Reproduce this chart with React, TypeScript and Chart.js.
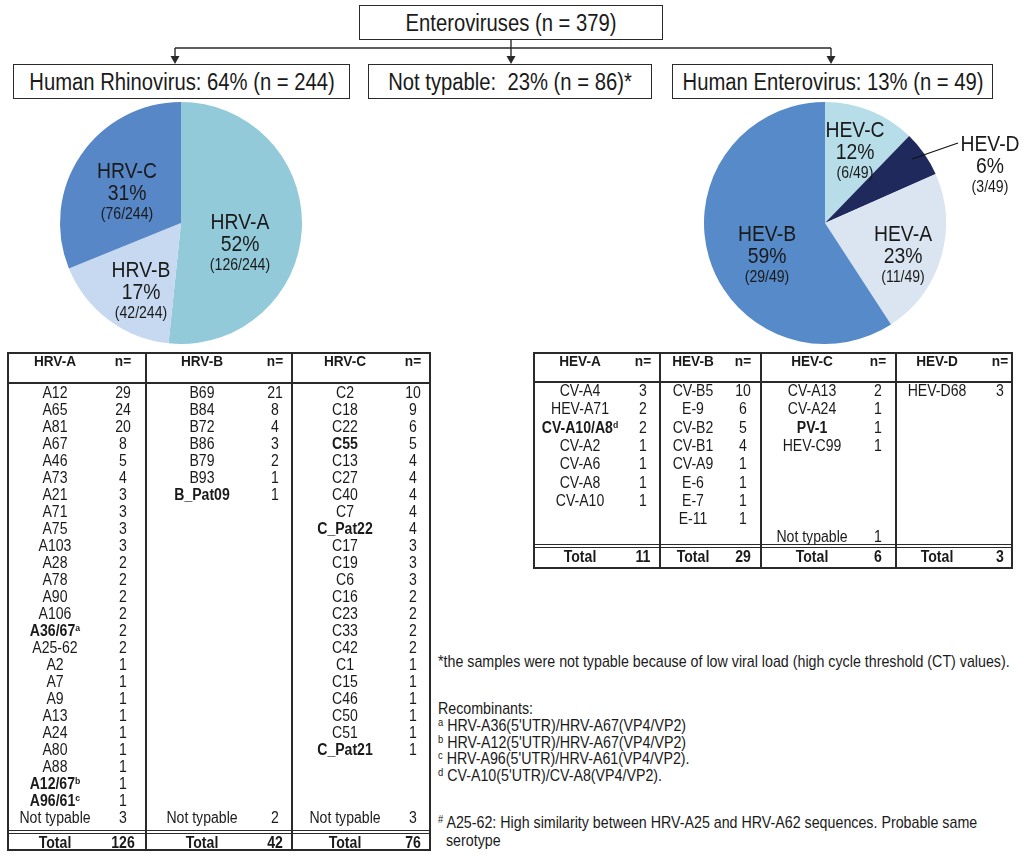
import React, { useEffect, useRef } from "react";
import { Chart, registerables } from "chart.js";

Chart.register(...registerables);

// ---------- Data ----------
const hrvLabels = ["HRV-A", "HRV-B", "HRV-C"];
const hrvCounts = [126, 42, 76];
const hrvPercents = ["52%", "17%", "31%"];
const hrvColors = ["#93CADA", "#C6D9F0", "#5787C7"];

const hevLabels = ["HEV-C", "HEV-D", "HEV-A", "HEV-B"];
const hevCounts = [6, 3, 11, 29];
const hevPercents = ["12%", "6%", "23%", "59%"];
const hevColors = ["#B7DDE8", "#1F295C", "#DBE5F1", "#568AC8"];

const hrvANames = ["A12", "A65", "A81", "A67", "A46", "A73", "A21", "A71", "A75", "A103", "A28", "A78", "A90", "A106", "A36/67", "A25-62", "A2", "A7", "A9", "A13", "A24", "A80", "A88", "A12/67", "A96/61"];
const hrvACounts = [29, 24, 20, 8, 5, 4, 3, 3, 3, 3, 2, 2, 2, 2, 2, 2, 1, 1, 1, 1, 1, 1, 1, 1, 1];
const hrvANotTypable = 3;

const hrvBNames = ["B69", "B84", "B72", "B86", "B79", "B93", "B_Pat09"];
const hrvBCounts = [21, 8, 4, 3, 2, 1, 1];
const hrvBNotTypable = 2;

const hrvCNames = ["C2", "C18", "C22", "C55", "C13", "C27", "C40", "C7", "C_Pat22", "C17", "C19", "C6", "C16", "C23", "C33", "C42", "C1", "C15", "C46", "C50", "C51", "C_Pat21"];
const hrvCCounts = [10, 9, 6, 5, 4, 4, 4, 4, 4, 3, 3, 3, 2, 2, 2, 2, 1, 1, 1, 1, 1, 1];
const hrvCNotTypable = 3;

const hevANames = ["CV-A4", "HEV-A71", "CV-A10/A8", "CV-A2", "CV-A6", "CV-A8", "CV-A10"];
const hevACounts = [3, 2, 2, 1, 1, 1, 1];
const hevBNames = ["CV-B5", "E-9", "CV-B2", "CV-B1", "CV-A9", "E-6", "E-7", "E-11"];
const hevBCounts = [10, 6, 5, 4, 1, 1, 1, 1];
const hevCNames = ["CV-A13", "CV-A24", "PV-1", "HEV-C99"];
const hevCCounts = [2, 1, 1, 1];
const hevCNotTypable = 1;
const hevDNames = ["HEV-D68"];
const hevDCounts = [3];

const boldNames = ["A36/67", "A12/67", "A96/61", "B_Pat09", "C55", "C_Pat22", "C_Pat21", "CV-A10/A8", "PV-1"];
const superscripts: Record<string, string> = { "A36/67": "a", "A12/67": "b", "A96/61": "c", "CV-A10/A8": "d" };

const topBoxText = "Enteroviruses (n = 379)";
const branchTexts = ["Human Rhinovirus: 64% (n = 244)", "Not typable:  23% (n = 86)*", "Human Enterovirus: 13% (n = 49)"];

const footnoteStar = "*the samples were not typable because of low viral load (high cycle threshold (CT) values).";
const recombTitle = "Recombinants:";
const recombMarks = ["a", "b", "c", "d"];
const recombTexts = ["HRV-A36(5'UTR)/HRV-A67(VP4/VP2)", "HRV-A12(5'UTR)/HRV-A67(VP4/VP2)", "HRV-A96(5'UTR)/HRV-A61(VP4/VP2).", "CV-A10(5'UTR)/CV-A8(VP4/VP2)."];
const hashNote1 = "A25-62: High similarity between HRV-A25 and HRV-A62 sequences. Probable same";
const hashNote2 = "serotype";

// ---------- Styling ----------
const FONT = "'Liberation Sans', Arial, Helvetica, sans-serif";
const SX = 0.88;
const INK = "#1a1a1a";
const LINE = "#2a2a2a";
const NOTE_SIZE = 16.2;

const sum = (a: number[]) => a.reduce((s, v) => s + v, 0);

type TProps = { x: number; y: number; size: number; bold?: boolean; align?: "center" | "left"; children: React.ReactNode };
function T({ x, y, size, bold, align = "center", children }: TProps) {
  const center = align === "center";
  return (
    <div
      style={{
        position: "absolute",
        left: x,
        top: y,
        whiteSpace: "pre",
        fontSize: size,
        fontWeight: bold ? 700 : 400,
        lineHeight: 1,
        color: INK,
        transform: center ? `translate(-50%, -50%) scaleX(${SX})` : `translateY(-50%) scaleX(${SX})`,
        transformOrigin: center ? "50% 50%" : "0% 50%",
      }}
    >
      {children}
    </div>
  );
}

function HLine({ x1, x2, y, w = 1.5 }: { x1: number; x2: number; y: number; w?: number }) {
  return <div style={{ position: "absolute", left: x1, top: y - w / 2, width: x2 - x1, height: w, background: LINE }} />;
}
function VLine({ x, y1, y2, w = 1.5 }: { x: number; y1: number; y2: number; w?: number }) {
  return <div style={{ position: "absolute", left: x - w / 2, top: y1, width: w, height: y2 - y1, background: LINE }} />;
}

// ---------- Pie ----------
const sliceLabelPlugin = {
  id: "sliceLabels",
  afterDatasetsDraw(chart: any, _args: any, opts: any) {
    const meta = chart.getDatasetMeta(0);
    const ctx = chart.ctx as CanvasRenderingContext2D;
    const data = chart.data.datasets[0].data as number[];
    const total = sum(data);
    meta.data.forEach((arc: any, i: number) => {
      const off = opts.offsets[i];
      const cx = arc.x + off[0];
      const cy = arc.y + off[1];
      const draw = (text: string, dy: number, size: number) => {
        ctx.save();
        ctx.translate(cx, cy + dy);
        ctx.scale(SX, 1);
        ctx.font = `${size}px ${FONT}`;
        ctx.fillStyle = INK;
        ctx.textAlign = "center";
        ctx.textBaseline = "middle";
        ctx.fillText(text, 0, 0);
        ctx.restore();
      };
      draw(chart.data.labels[i], -22, 22);
      draw(opts.percents[i], 0, 22);
      draw(`(${data[i]}/${total})`, 21, 16);
    });
    if (opts.leader) {
      const arc = meta.data[0];
      const [a, b] = opts.leader;
      ctx.save();
      ctx.strokeStyle = "#111";
      ctx.lineWidth = 1.2;
      ctx.beginPath();
      ctx.moveTo(arc.x + a[0], arc.y + a[1]);
      ctx.lineTo(arc.x + b[0], arc.y + b[1]);
      ctx.stroke();
      ctx.restore();
    }
  },
};

type PieProps = {
  labels: string[];
  counts: number[];
  percents: string[];
  colors: string[];
  left: number;
  top: number;
  width: number;
  height: number;
  padding: { left: number; right: number; top: number; bottom: number };
  offsets: number[][];
  leader?: number[][];
};

function Pie(p: PieProps) {
  const ref = useRef<HTMLCanvasElement | null>(null);
  useEffect(() => {
    if (!ref.current) return;
    const chart = new Chart(ref.current, {
      type: "pie",
      data: {
        labels: p.labels,
        datasets: [{ data: p.counts, backgroundColor: p.colors, borderWidth: 0 }],
      },
      options: {
        responsive: false,
        animation: false,
        layout: { padding: p.padding },
        plugins: {
          legend: { display: false },
          tooltip: { enabled: false },
          sliceLabels: { offsets: p.offsets, percents: p.percents, leader: p.leader },
        } as any,
      },
      plugins: [sliceLabelPlugin as any],
    });
    return () => chart.destroy();
  }, []);
  return (
    <canvas
      ref={ref}
      width={p.width}
      height={p.height}
      style={{ position: "absolute", left: p.left, top: p.top, width: p.width, height: p.height }}
    />
  );
}

// ---------- Table ----------
type Col = { title: string; names: string[]; counts: number[]; notTypable?: number };
type Layout = {
  left: number; top: number; right: number; bottom: number;
  headerLine: number; totalLine: number; dividers: number[];
  headerY: number; firstRowY: number; rowStep: number; totalY: number; notTypableRow: number;
  nameX: number[]; countX: number[];
};

function NameText({ name }: { name: string }) {
  const sup = superscripts[name];
  return (
    <>
      {name}
      {sup ? <span style={{ fontSize: "0.62em", verticalAlign: "0.55em" }}>{sup}</span> : null}
    </>
  );
}

function Table({ cols, L }: { cols: Col[]; L: Layout }) {
  const els: React.ReactNode[] = [];
  cols.forEach((c, ci) => {
    els.push(<T key={`h${ci}`} x={L.nameX[ci]} y={L.headerY} size={15.5} bold>{c.title}</T>);
    els.push(<T key={`hn${ci}`} x={L.countX[ci]} y={L.headerY} size={15.5} bold>n=</T>);
    c.names.forEach((n, ri) => {
      const y = L.firstRowY + ri * L.rowStep;
      const bold = boldNames.includes(n);
      els.push(<T key={`n${ci}-${ri}`} x={L.nameX[ci]} y={y} size={16} bold={bold}><NameText name={n} /></T>);
      els.push(<T key={`c${ci}-${ri}`} x={L.countX[ci]} y={y} size={16}>{String(c.counts[ri])}</T>);
    });
    let total = sum(c.counts);
    if (c.notTypable) {
      total += c.notTypable;
      const y = L.firstRowY + L.notTypableRow * L.rowStep;
      els.push(<T key={`nt${ci}`} x={L.nameX[ci]} y={y} size={16}>Not typable</T>);
      els.push(<T key={`ntc${ci}`} x={L.countX[ci]} y={y} size={16}>{String(c.notTypable)}</T>);
    }
    els.push(<T key={`t${ci}`} x={L.nameX[ci]} y={L.totalY} size={16} bold>Total</T>);
    els.push(<T key={`tc${ci}`} x={L.countX[ci]} y={L.totalY} size={16} bold>{String(total)}</T>);
  });
  return (
    <>
      <div
        style={{
          position: "absolute",
          left: L.left,
          top: L.top,
          width: L.right - L.left,
          height: L.bottom - L.top,
          border: `2px solid ${LINE}`,
          boxSizing: "border-box",
        }}
      />
      <HLine x1={L.left} x2={L.right} y={L.headerLine} w={1.6} />
      <HLine x1={L.left} x2={L.right} y={L.totalLine - 1.2} w={1.2} />
      <HLine x1={L.left} x2={L.right} y={L.totalLine + 1.2} w={1.2} />
      {L.dividers.map((x, i) => (
        <VLine key={i} x={x} y1={L.top} y2={L.bottom} w={1.6} />
      ))}
      {els}
    </>
  );
}

const leftLayout: Layout = {
  left: 7, top: 352, right: 431, bottom: 851,
  headerLine: 383, totalLine: 832, dividers: [146, 292],
  headerY: 361, firstRowY: 393, rowStep: 17, totalY: 843, notTypableRow: 25,
  nameX: [55, 202, 345], countX: [123, 275, 413],
};

const rightLayout: Layout = {
  left: 533, top: 352, right: 1013, bottom: 569,
  headerLine: 382, totalLine: 546, dividers: [660, 761, 896],
  headerY: 361, firstRowY: 391, rowStep: 18.3, totalY: 557, notTypableRow: 8,
  nameX: [580, 693, 812, 937], countX: [643, 743, 878, 1000],
};

// ---------- Flowchart ----------
function Box({ x1, x2, y1, y2, text }: { x1: number; x2: number; y1: number; y2: number; text: string }) {
  return (
    <>
      <div
        style={{
          position: "absolute",
          left: x1,
          top: y1,
          width: x2 - x1,
          height: y2 - y1,
          border: `1.5px solid ${LINE}`,
          boxSizing: "border-box",
          background: "#fff",
        }}
      />
      <T x={(x1 + x2) / 2} y={(y1 + y2) / 2} size={23}>{text}</T>
    </>
  );
}

function Arrow({ x, y1, y2 }: { x: number; y1: number; y2: number }) {
  return (
    <>
      <line x1={x} y1={y1} x2={x} y2={y2 - 6} stroke={LINE} strokeWidth={1.4} />
      <polygon points={`${x - 4.5},${y2 - 8} ${x + 4.5},${y2 - 8} ${x},${y2}`} fill={LINE} />
    </>
  );
}

export default function App() {
  const branchBoxes = [
    { x1: 13, x2: 350 },
    { x1: 368, x2: 652 },
    { x1: 672, x2: 993 },
  ];
  return (
    <div
      style={{
        position: "absolute",
        left: 0,
        top: 0,
        width: 1024,
        height: 857,
        background: "#fff",
        fontFamily: FONT,
        overflow: "hidden",
      }}
    >
      <svg width={1024} height={110} style={{ position: "absolute", left: 0, top: 0 }}>
        <line x1={511} y1={40} x2={511} y2={48} stroke={LINE} strokeWidth={1.4} />
        <line x1={175} y1={48} x2={831} y2={48} stroke={LINE} strokeWidth={1.4} />
        <Arrow x={175} y1={48} y2={64} />
        <Arrow x={511} y1={48} y2={64} />
        <Arrow x={831} y1={48} y2={64} />
      </svg>
      <Box x1={359} x2={663} y1={5} y2={40} text={topBoxText} />
      {branchBoxes.map((b, i) => (
        <Box key={i} x1={b.x1} x2={b.x2} y1={64} y2={99} text={branchTexts[i]} />
      ))}

      <Pie
        labels={hrvLabels}
        counts={hrvCounts}
        percents={hrvPercents}
        colors={hrvColors}
        left={40}
        top={95}
        width={300}
        height={262}
        padding={{ left: 20, right: 38, top: 7, bottom: 13 }}
        offsets={[[59, 22], [-40, 70], [-54, -29]]}
      />
      <Pie
        labels={hevLabels}
        counts={hevCounts}
        percents={hevPercents}
        colors={hevColors}
        left={690}
        top={95}
        width={334}
        height={262}
        padding={{ left: 14, right: 78, top: 7, bottom: 13 }}
        offsets={[[30, -70], [165, -56], [78, 34], [-58, 34]]}
        leader={[[87, -64], [133, -80]]}
      />

      <Table
        L={leftLayout}
        cols={[
          { title: "HRV-A", names: hrvANames, counts: hrvACounts, notTypable: hrvANotTypable },
          { title: "HRV-B", names: hrvBNames, counts: hrvBCounts, notTypable: hrvBNotTypable },
          { title: "HRV-C", names: hrvCNames, counts: hrvCCounts, notTypable: hrvCNotTypable },
        ]}
      />
      <Table
        L={rightLayout}
        cols={[
          { title: "HEV-A", names: hevANames, counts: hevACounts },
          { title: "HEV-B", names: hevBNames, counts: hevBCounts },
          { title: "HEV-C", names: hevCNames, counts: hevCCounts, notTypable: hevCNotTypable },
          { title: "HEV-D", names: hevDNames, counts: hevDCounts },
        ]}
      />

      <T x={438} y={661} size={NOTE_SIZE} align="left">{footnoteStar}</T>
      <T x={438} y={708} size={NOTE_SIZE} align="left">{recombTitle}</T>
      {recombTexts.map((t, i) => (
        <T key={i} x={438} y={725 + i * 16.5} size={NOTE_SIZE} align="left">
          <span style={{ fontSize: "0.66em", verticalAlign: "0.5em" }}>{recombMarks[i]}</span> {t}
        </T>
      ))}
      <T x={438} y={822} size={NOTE_SIZE} align="left">
        <span style={{ fontSize: "0.66em", verticalAlign: "0.5em" }}>#</span> {hashNote1}
      </T>
      <T x={446} y={840} size={NOTE_SIZE} align="left">{hashNote2}</T>
    </div>
  );
}
